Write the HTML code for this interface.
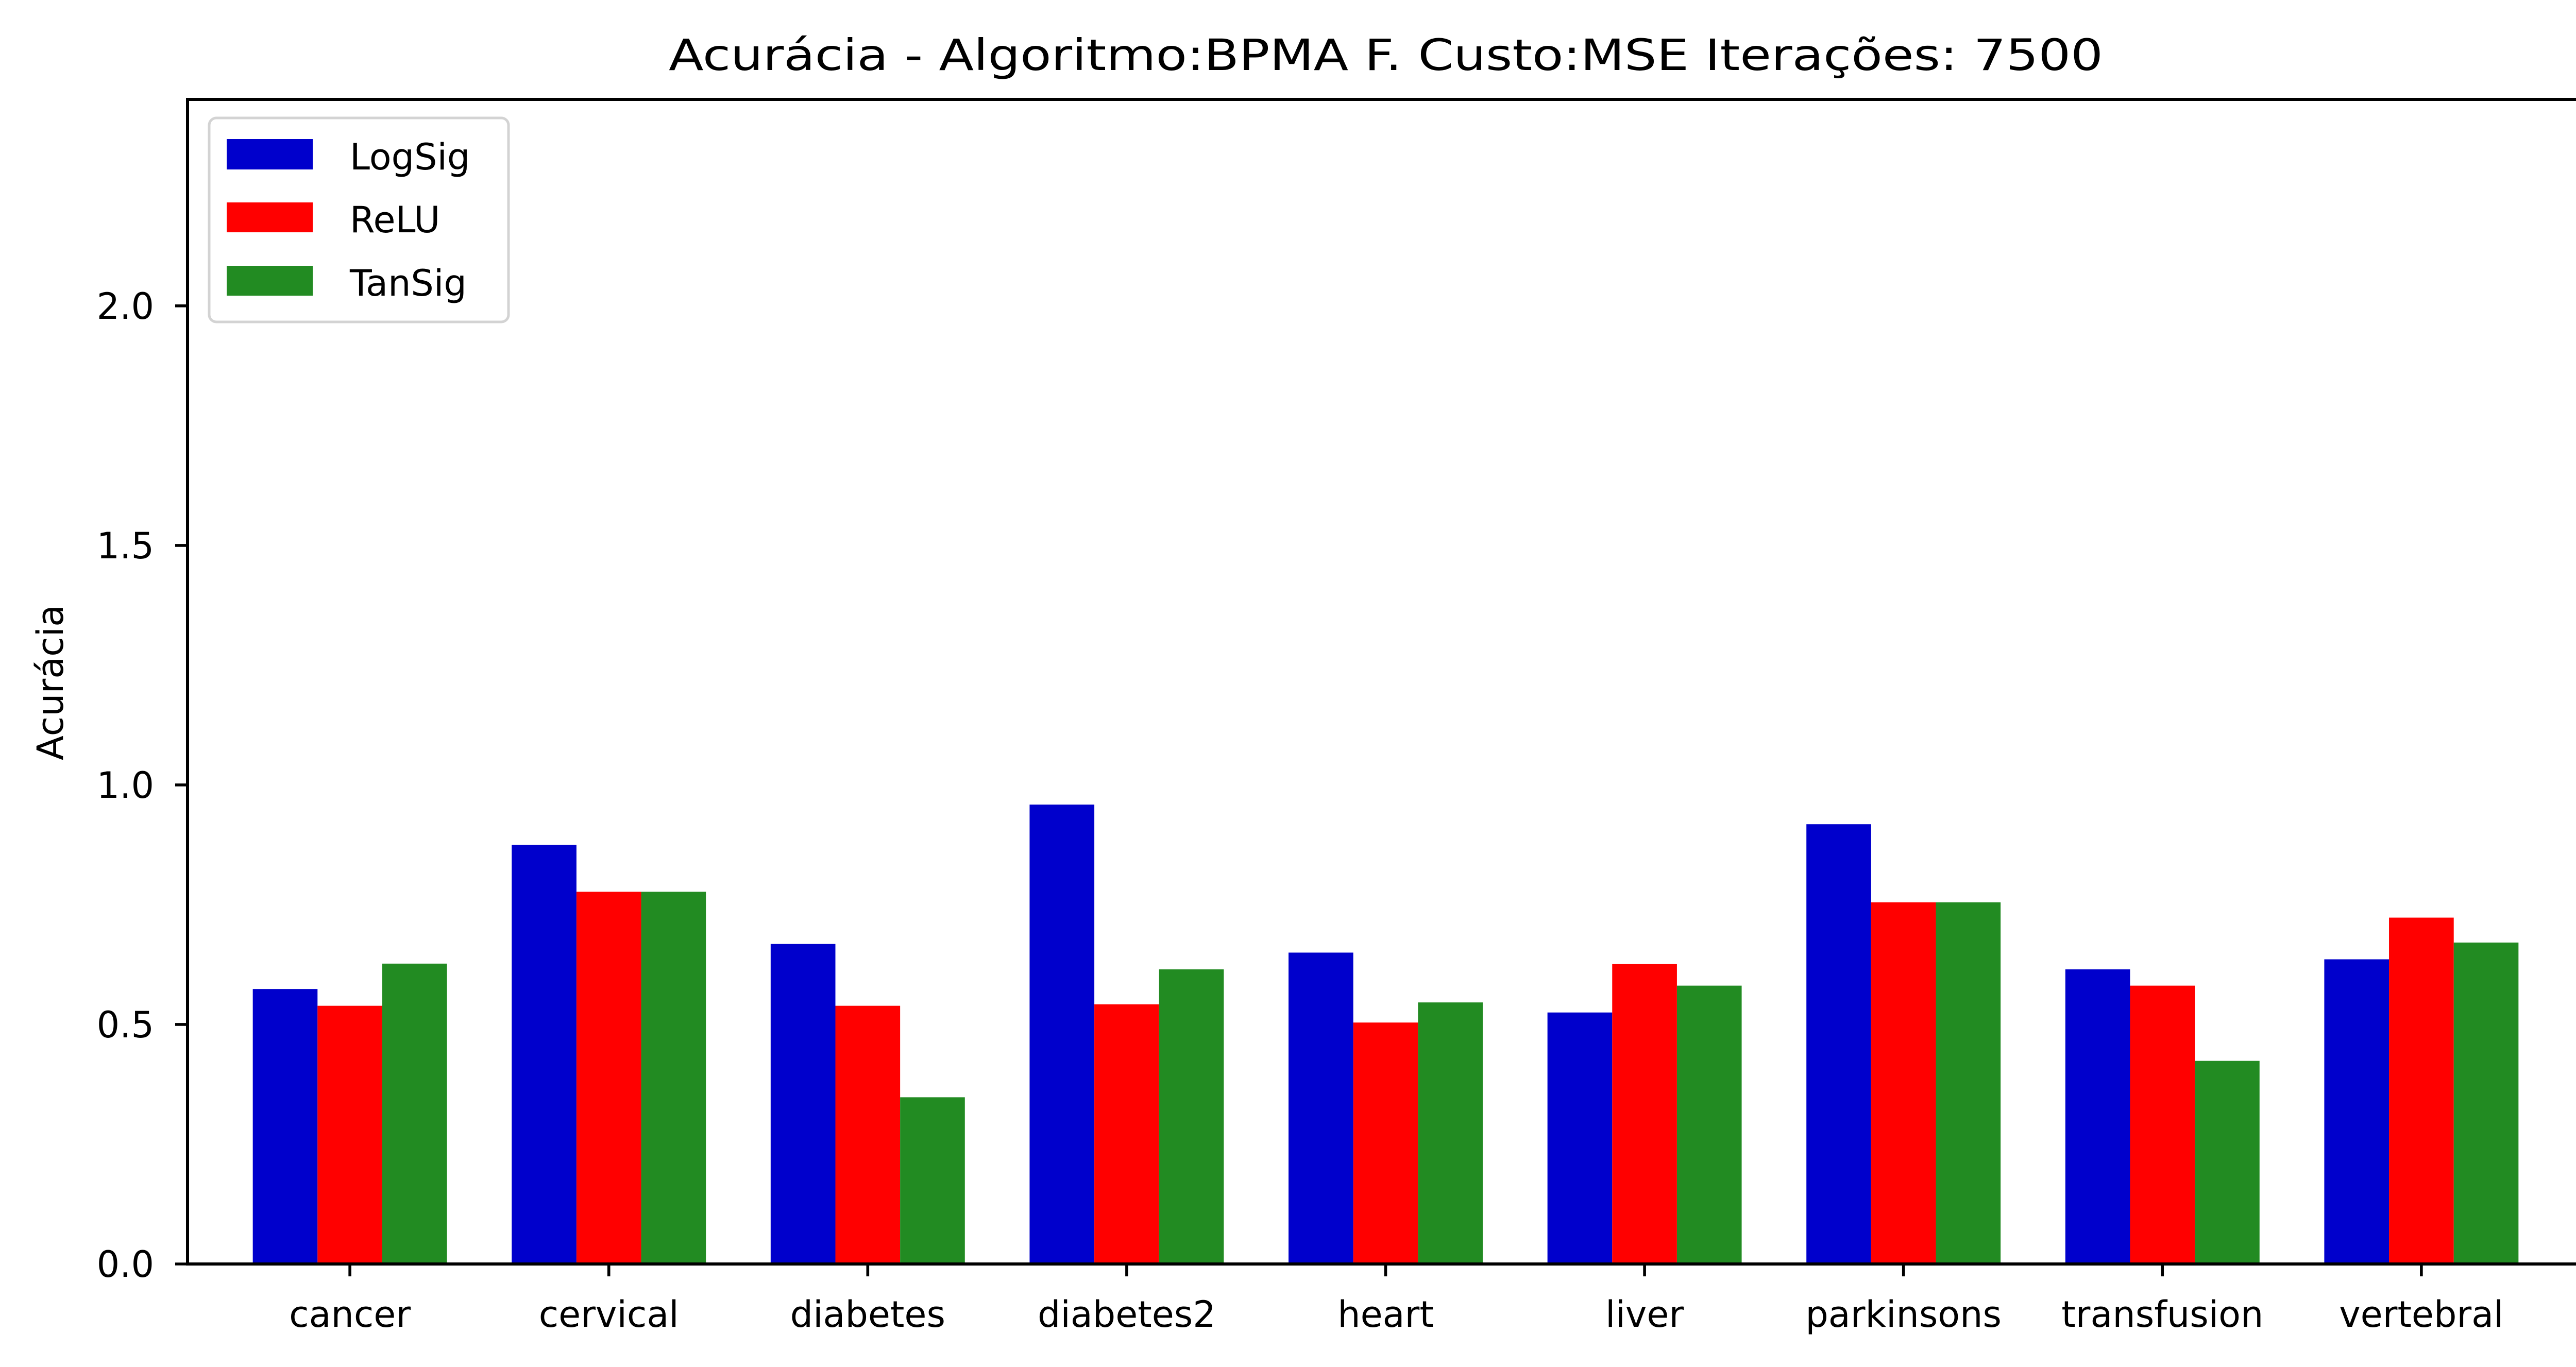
<!DOCTYPE html>
<html><head><meta charset="utf-8"><style>
html,body{margin:0;padding:0;background:#fff;}
svg{display:block;font-family:"DejaVu Sans","Liberation Sans",sans-serif;}
</style></head><body>
<svg id="chart" width="5075" height="2654" viewBox="0 0 5075 2654" xmlns="http://www.w3.org/2000/svg">
<rect width="5075" height="2654" fill="#fff"/>
<text x="2690" y="136" font-size="84" text-anchor="middle" textLength="2784" lengthAdjust="spacingAndGlyphs">Acurácia - Algoritmo:BPMA F. Custo:MSE Iterações: 7500</text>
<text transform="translate(122,1325) rotate(-90)" font-size="70" text-anchor="middle">Acurácia</text>
<g id="bars"></g>
<g id="ticks"></g>
<rect x="364" y="193" width="4651" height="2261" fill="none" stroke="#000" stroke-width="6"/>
<g>
<rect x="406" y="229" width="581" height="396" rx="14" fill="#fff" fill-opacity="0.8" stroke="#d3d3d3" stroke-width="5"/>
<rect x="440" y="270" width="167" height="59" fill="#0000cc"/>
<text x="679" y="329" font-size="70">LogSig</text>
<rect x="440" y="393" width="167" height="58" fill="#ff0000"/>
<text x="679" y="451" font-size="70">ReLU</text>
<rect x="440" y="516" width="167" height="58" fill="#228b22"/>
<text x="679" y="574" font-size="70">TanSig</text>
</g>
</svg>
<script>
const categories = ["cancer","cervical","diabetes","diabetes2","heart","liver","parkinsons","transfusion","vertebral"];
const logsig = [0.574,0.875,0.668,0.959,0.650,0.525,0.918,0.615,0.636];
const relu = [0.539,0.777,0.539,0.542,0.504,0.626,0.755,0.581,0.723];
const tansig = [0.627,0.777,0.348,0.615,0.546,0.581,0.755,0.424,0.671];
const yTicks = [0.0,0.5,1.0,1.5,2.0];
const yTickLabels = ["0.0","0.5","1.0","1.5","2.0"];

const NS = "http://www.w3.org/2000/svg";
const L=364,R=5015,T=193,B=2454;
const xMin=-0.627,xMax=categories.length-1+0.627,yMax=2.431;
function xs(v){return L+(v-xMin)/(xMax-xMin)*(R-L);}
function ys(v){return B-v/yMax*(B-T);}
const bars=document.getElementById('bars'),ticks=document.getElementById('ticks');
const series=[[logsig,"#0000cc","logsig",-0.25],[relu,"#ff0000","relu",0],[tansig,"#228b22","tansig",0.25]];
series.forEach(s=>{
  s[0].forEach((v,i)=>{
    const r=document.createElementNS(NS,'rect');
    const x0=xs(i+s[3]-0.125),x1=xs(i+s[3]+0.125);
    r.setAttribute('x',x0);r.setAttribute('width',x1-x0);
    r.setAttribute('y',ys(v));r.setAttribute('height',B-ys(v));
    r.setAttribute('fill',s[1]);
    
    
    bars.appendChild(r);
  });
});
categories.forEach((c,i)=>{
  const x=xs(i);
  const l=document.createElementNS(NS,'line');
  l.setAttribute('x1',x);l.setAttribute('x2',x);l.setAttribute('y1',B);l.setAttribute('y2',B+24);
  l.setAttribute('stroke','#000');l.setAttribute('stroke-width','5.6');
  
  
  ticks.appendChild(l);
  const t=document.createElementNS(NS,'text');
  t.setAttribute('x',x);t.setAttribute('y',2576);t.setAttribute('font-size','70');t.setAttribute('text-anchor','middle');
  t.textContent=c;
  
  
  ticks.appendChild(t);
});
yTicks.forEach((v,i)=>{
  const y=ys(v);
  const l=document.createElementNS(NS,'line');
  l.setAttribute('x1',L-24);l.setAttribute('x2',L);l.setAttribute('y1',y);l.setAttribute('y2',y);
  l.setAttribute('stroke','#000');l.setAttribute('stroke-width','5.6');
  
  
  ticks.appendChild(l);
  const t=document.createElementNS(NS,'text');
  t.setAttribute('x',299);t.setAttribute('y',y+25);t.setAttribute('font-size','70');t.setAttribute('text-anchor','end');
  t.textContent=yTickLabels[i];
  
  
  ticks.appendChild(t);
});
</script>
</body></html>
